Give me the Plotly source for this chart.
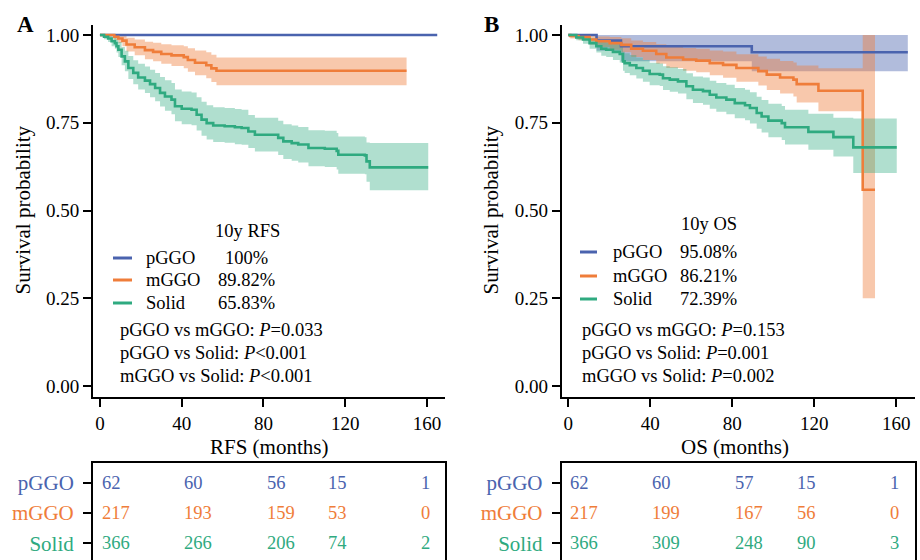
import plotly.graph_objects as go

FONT = "Liberation Serif"
BLUE, ORANGE, GREEN = "#4A63AE", "#EF7D3A", "#2FAA80"
BLUE_F, ORANGE_F, GREEN_F = "rgba(74,99,174,0.43)", "rgba(239,125,58,0.42)", "rgba(47,170,128,0.38)"

groups = ["pGGO", "mGGO", "Solid"]
x_ticks = [0, 40, 80, 120, 160]
y_ticks = [0, 0.25, 0.5, 0.75, 1.0]
y_ticktext = ["0.00", "0.25", "0.50", "0.75", "1.00"]

# ---------------- RFS (panel A) ----------------
rfs_pggo_t = [0, 165]
rfs_pggo_s = [1.0, 1.0]

rfs_mggo_t = [0, 7, 9, 11, 13, 17, 22, 26, 30, 35, 41, 43, 46.5, 52, 54.5, 57, 150]
rfs_mggo_s = [1, 0.995, 0.990, 0.984, 0.973, 0.965, 0.957, 0.952, 0.946, 0.942, 0.937, 0.929, 0.921, 0.914, 0.905, 0.898, 0.898]
rfs_mggo_hi = [1, 1, 1, 0.998, 0.992, 0.987, 0.981, 0.978, 0.974, 0.971, 0.968, 0.962, 0.956, 0.951, 0.944, 0.936, 0.936]
rfs_mggo_lo = [1, 0.985, 0.977, 0.968, 0.953, 0.942, 0.931, 0.925, 0.918, 0.912, 0.905, 0.895, 0.885, 0.877, 0.866, 0.857, 0.857]

rfs_solid_t = [0, 2, 4, 5.7, 7.3, 8.1, 9, 10.6, 12.2, 13.9, 16.3, 18.7, 22, 24.5, 27, 29.4, 31.8, 35, 36.7, 40,
               44.8, 47.3, 49.7, 52.2, 55.4, 61, 66, 69.3, 72.6, 75.8, 87.2, 89.7, 93.8, 97, 102, 110, 115.8, 116.6,
               129.6, 130.4, 132, 160.6]
rfs_solid_s = [1, 0.995, 0.99, 0.982, 0.977, 0.968, 0.958, 0.939, 0.925, 0.906, 0.892, 0.879, 0.870, 0.860, 0.849,
               0.835, 0.825, 0.816, 0.797, 0.790, 0.787, 0.773, 0.759, 0.749, 0.742, 0.740, 0.737, 0.735, 0.725, 0.716,
               0.707, 0.697, 0.692, 0.688, 0.678, 0.676, 0.670, 0.659, 0.657, 0.640, 0.623, 0.623]
rfs_solid_hi = [1, 1, 1, 0.996, 0.993, 0.987, 0.980, 0.966, 0.955, 0.940, 0.928, 0.918, 0.910, 0.901, 0.892, 0.880,
                0.871, 0.863, 0.845, 0.839, 0.836, 0.823, 0.810, 0.800, 0.794, 0.792, 0.789, 0.787, 0.772, 0.764,
                0.756, 0.746, 0.742, 0.738, 0.729, 0.727, 0.721, 0.711, 0.709, 0.694, 0.692, 0.692]
rfs_solid_lo = [1, 0.988, 0.980, 0.968, 0.961, 0.950, 0.937, 0.914, 0.897, 0.875, 0.860, 0.845, 0.835, 0.823, 0.811,
                0.796, 0.784, 0.774, 0.754, 0.746, 0.743, 0.728, 0.713, 0.702, 0.695, 0.693, 0.689, 0.687, 0.678,
                0.668, 0.658, 0.647, 0.642, 0.637, 0.626, 0.624, 0.617, 0.605, 0.603, 0.582, 0.558, 0.558]

# ---------------- OS (panel B) ----------------
os_pggo_t = [0, 13.8, 25.7, 89.5, 165.6]
os_pggo_s = [1, 0.984, 0.968, 0.951, 0.951]
os_pggo_hi = [1, 1, 1, 1, 1]
os_pggo_lo = [1, 0.955, 0.925, 0.897, 0.897]

os_mggo_t = [0, 1, 5, 10.4, 13.7, 20.2, 25.9, 30.7, 36.4, 42.9, 47.8, 56, 62.4, 69, 75.5, 82, 92.7, 96.8, 103.3,
             109.8, 111.4, 122, 143.6, 149.6]
os_mggo_s = [1, 0.997, 0.994, 0.987, 0.982, 0.977, 0.972, 0.961, 0.955, 0.946, 0.936, 0.930, 0.927, 0.920, 0.915,
             0.906, 0.897, 0.887, 0.879, 0.873, 0.860, 0.841, 0.559, 0.559]
os_mggo_hi = [1, 1, 1, 0.998, 0.996, 0.994, 0.991, 0.984, 0.980, 0.974, 0.967, 0.963, 0.961, 0.956, 0.953, 0.945,
              0.939, 0.932, 0.926, 0.922, 0.913, 0.905, 1.0, 1.0]
os_mggo_lo = [1, 0.99, 0.985, 0.973, 0.966, 0.958, 0.951, 0.937, 0.929, 0.918, 0.906, 0.898, 0.894, 0.885, 0.878,
              0.867, 0.856, 0.843, 0.833, 0.825, 0.808, 0.783, 0.25, 0.25]

os_solid_t = [0, 3.9, 7.2, 10.4, 13.7, 16.1, 18.5, 21.8, 25.1, 26.7, 27.5, 30, 33.2, 36.4, 39.7, 44.6, 46.2, 49.5,
              53.5, 57.6, 60.8, 65.7, 69, 72.2, 77.1, 81.2, 86.2, 88.6, 91.9, 94.3, 97.6, 104.1, 105.7, 117.1,
              129.3, 139, 160.2]
os_solid_s = [1, 0.993, 0.987, 0.977, 0.968, 0.961, 0.958, 0.952, 0.946, 0.925, 0.920, 0.914, 0.906, 0.898, 0.889,
              0.887, 0.877, 0.873, 0.868, 0.854, 0.844, 0.840, 0.830, 0.822, 0.816, 0.806, 0.800, 0.792, 0.778,
              0.768, 0.756, 0.749, 0.737, 0.724, 0.709, 0.680, 0.680]
os_solid_hi = [1, 1.0, 0.998, 0.992, 0.986, 0.981, 0.979, 0.975, 0.970, 0.952, 0.948, 0.943, 0.936, 0.929, 0.921,
               0.919, 0.911, 0.908, 0.903, 0.891, 0.882, 0.879, 0.870, 0.863, 0.858, 0.849, 0.844, 0.837, 0.824,
               0.815, 0.804, 0.798, 0.787, 0.776, 0.764, 0.762, 0.762]
os_solid_lo = [1, 0.985, 0.975, 0.961, 0.950, 0.941, 0.937, 0.929, 0.922, 0.898, 0.892, 0.885, 0.876, 0.867, 0.857,
               0.855, 0.843, 0.838, 0.833, 0.817, 0.806, 0.801, 0.790, 0.781, 0.774, 0.763, 0.757, 0.748, 0.733,
               0.722, 0.709, 0.701, 0.688, 0.673, 0.654, 0.607, 0.607]

# ---------------- annotations text ----------------
rfs_10y = ["100%", "89.82%", "65.83%"]
os_10y = ["95.08%", "86.21%", "72.39%"]
rfs_p = ["pGGO vs mGGO: <i>P</i>=0.033", "pGGO vs Solid: <i>P</i>&lt;0.001", "mGGO vs Solid: <i>P</i>&lt;0.001"]
os_p = ["pGGO vs mGGO: <i>P</i>=0.153", "pGGO vs Solid: <i>P</i>=0.001", "mGGO vs Solid: <i>P</i>=0.002"]

# ---------------- numbers at risk ----------------
risk_times = [0, 40, 80, 120, 160]
risk_label_x = [0, 40, 80.5, 110.5, 156]
rfs_risk = {"pGGO": [62, 60, 56, 15, 1], "mGGO": [217, 193, 159, 53, 0], "Solid": [366, 266, 206, 74, 2]}
os_risk = {"pGGO": [62, 60, 57, 15, 1], "mGGO": [217, 199, 167, 56, 0], "Solid": [366, 309, 248, 90, 3]}

colors = {"pGGO": BLUE, "mGGO": ORANGE, "Solid": GREEN}

W, H = 920, 560
def PX(x): return x / W
def PY(y): return 1 - y / H

fig = go.Figure()

def add_band(t, lo, hi, fill, xa, ya):
    fig.add_trace(go.Scatter(x=t, y=lo, mode="lines", line=dict(width=0, shape="hv"),
                             hoverinfo="skip", showlegend=False, xaxis=xa, yaxis=ya))
    fig.add_trace(go.Scatter(x=t, y=hi, mode="lines", line=dict(width=0, shape="hv"), fill="tonexty",
                             fillcolor=fill, hoverinfo="skip", showlegend=False, xaxis=xa, yaxis=ya))

def add_line(t, s, color, xa, ya):
    fig.add_trace(go.Scatter(x=t, y=s, mode="lines", line=dict(width=2.6, shape="hv", color=color),
                             showlegend=False, xaxis=xa, yaxis=ya))

# Panel A
add_band(rfs_mggo_t, rfs_mggo_lo, rfs_mggo_hi, ORANGE_F, "x", "y")
add_band(rfs_solid_t, rfs_solid_lo, rfs_solid_hi, GREEN_F, "x", "y")
add_line(rfs_pggo_t, rfs_pggo_s, BLUE, "x", "y")
add_line(rfs_mggo_t, rfs_mggo_s, ORANGE, "x", "y")
add_line(rfs_solid_t, rfs_solid_s, GREEN, "x", "y")

# Panel B
add_band(os_pggo_t, os_pggo_lo, os_pggo_hi, BLUE_F, "x2", "y2")
add_band(os_mggo_t, os_mggo_lo, os_mggo_hi, ORANGE_F, "x2", "y2")
add_band(os_solid_t, os_solid_lo, os_solid_hi, GREEN_F, "x2", "y2")
add_line(os_pggo_t, os_pggo_s, BLUE, "x2", "y2")
add_line(os_mggo_t, os_mggo_s, ORANGE, "x2", "y2")
add_line(os_solid_t, os_solid_s, GREEN, "x2", "y2")

# invisible traces to make the table axes render
for xa, ya in (("x3", "y3"), ("x4", "y4")):
    fig.add_trace(go.Scatter(x=[0], y=[2], mode="markers", marker=dict(opacity=0), hoverinfo="skip",
                             showlegend=False, xaxis=xa, yaxis=ya))

tickfont = dict(family=FONT, size=19, color="black")
axcommon = dict(showline=True, linecolor="black", linewidth=2, ticks="outside", ticklen=8, tickwidth=2,
                tickcolor="black", showgrid=False, zeroline=False, fixedrange=True)

A_dom = [PX(93), PX(445)]
B_dom = [PX(561.7), PX(915)]
plot_ydom = [PY(397), PY(25)]
table_ydom = [0, PY(463)]
yr = [-0.0313, 1.0285]
row_vals = [3, 2, 1]
row_text = [f"<span style='color:{colors[g]}'>{g}</span>" for g in groups]
rowfont = dict(family=FONT, size=21, color="black")

layout = dict(
    width=W, height=H, margin=dict(l=0, r=0, t=0, b=0),
    paper_bgcolor="white", plot_bgcolor="white", showlegend=False,
    font=dict(family=FONT, color="black"),
    xaxis=dict(domain=A_dom, range=[-3.4, 168.8], tickvals=x_ticks, anchor="y", tickfont=tickfont, **axcommon),
    yaxis=dict(domain=plot_ydom, range=yr, tickvals=y_ticks, ticktext=y_ticktext, anchor="x", tickfont=tickfont,
               **axcommon),
    xaxis2=dict(domain=B_dom, range=[-3.2, 169.1], tickvals=x_ticks, anchor="y2", tickfont=tickfont, **axcommon),
    yaxis2=dict(domain=plot_ydom, range=yr, tickvals=y_ticks, ticktext=y_ticktext, anchor="x2", tickfont=tickfont,
                **axcommon),
    xaxis3=dict(domain=A_dom, range=[-3.4, 168.8], anchor="y3", side="top", showline=True, linecolor="black",
                linewidth=2, showticklabels=False, ticks="", showgrid=False, zeroline=False, fixedrange=True),
    yaxis3=dict(domain=table_ydom, range=[0.45, 3.65], anchor="x3", tickvals=row_vals, ticktext=row_text,
                mirror=True, tickfont=rowfont, ticklabelstandoff=5, **axcommon),
    xaxis4=dict(domain=B_dom, range=[-3.2, 169.1], anchor="y4", side="top", showline=True, linecolor="black",
                linewidth=2, showticklabels=False, ticks="", showgrid=False, zeroline=False, fixedrange=True),
    yaxis4=dict(domain=table_ydom, range=[0.45, 3.65], anchor="x4", tickvals=row_vals, ticktext=row_text,
                mirror=True, tickfont=rowfont, ticklabelstandoff=5, **axcommon),
)
fig.update_layout(**layout)

ann = []
shapes = []
TXT = 18.5
def text(x, y, s, size=TXT, xanchor="left", yanchor="middle", **kw):
    ann.append(dict(x=PX(x), y=PY(y), xref="paper", yref="paper", text=s, showarrow=False,
                    xanchor=xanchor, yanchor=yanchor, font=dict(family=FONT, size=size, color="black"), **kw))

# panel letters
text(25, 25, "<b>A</b>", size=23, xanchor="center")
text(491, 25, "<b>B</b>", size=23, xanchor="center")
# axis titles
text(22, 210.5, "Survival probability", size=21, xanchor="center", textangle=-90)
text(490, 210.5, "Survival probability", size=21, xanchor="center", textangle=-90)
text(269, 447, "RFS (months)", size=21, xanchor="center")
text(735, 447, "OS (months)", size=21, xanchor="center")

# legends
def legend_block(title, title_x, title_y, line_x0, line_x1, rows_y, label_x, val_cx, vals, p_x, p_lines):
    text(title_x, title_y, title, xanchor="center")
    for g, yy, v in zip(groups, rows_y, vals):
        shapes.append(dict(type="line", xref="paper", yref="paper", x0=PX(line_x0), x1=PX(line_x1),
                           y0=PY(yy), y1=PY(yy), line=dict(color=colors[g], width=3)))
        text(label_x, yy, g)
        text(val_cx, yy, v, xanchor="center")
    for yy, s in zip([330, 353, 376], p_lines):
        text(p_x, yy, s)

legend_block("10y RFS", 247, 231, 113, 132, [258, 280, 303], 144, 246, rfs_10y, 118, rfs_p)
legend_block("10y OS", 709, 224, 580, 597, [252, 276, 299], 611, 708.5, os_10y, 580, os_p)

# numbers at risk
for xa, ya, risk in (("x3", "y3", rfs_risk), ("x4", "y4", os_risk)):
    for g, rv in zip(groups, row_vals):
        for lx, n in zip(risk_label_x, risk[g]):
            ann.append(dict(x=lx, y=rv, xref=xa, yref=ya, text=str(n), showarrow=False, xanchor="left",
                            yanchor="middle", font=dict(family=FONT, size=TXT, color=colors[g])))

fig.update_layout(annotations=ann, shapes=shapes)
fig.write_html("out.html", config={"displayModeBar": False},
               post_script="document.body.style.margin='0';document.body.style.padding='0';"
                           "document.body.style.overflow='hidden';")
